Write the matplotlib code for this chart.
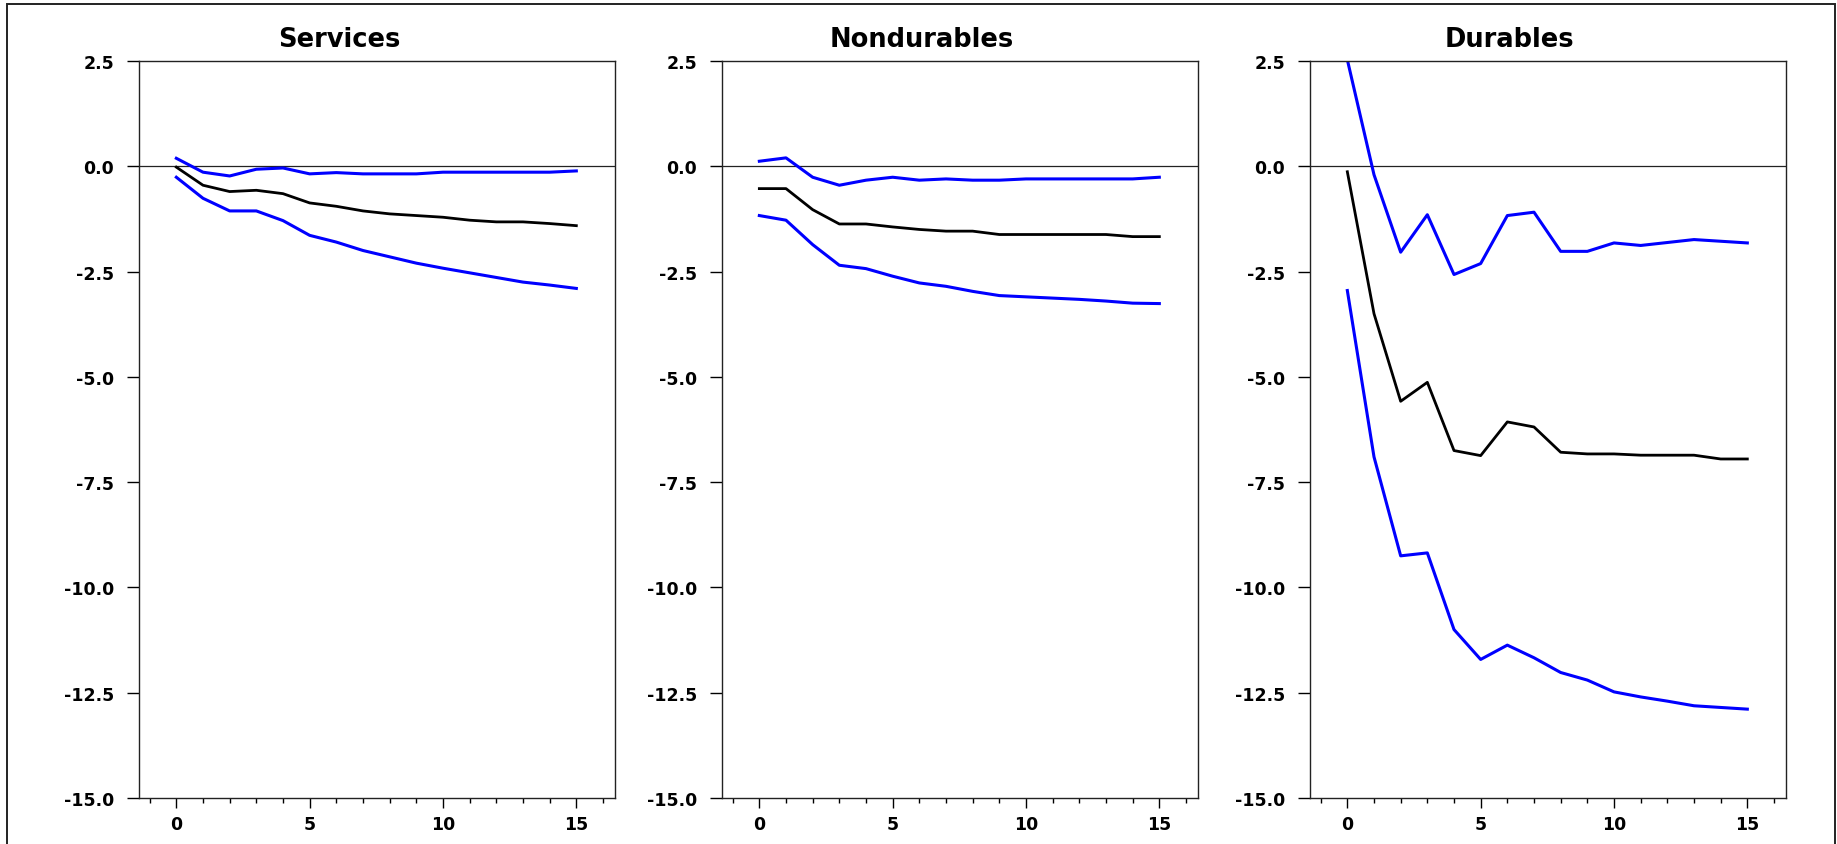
import matplotlib.pyplot as plt
import numpy as np
from matplotlib.patches import Rectangle
from matplotlib.ticker import MultipleLocator, FormatStrFormatter

plt.rcParams['font.family'] = ['DejaVu Sans']
plt.rcParams['axes.unicode_minus'] = False

horizon = np.arange(16)

titles = ['Services', 'Nondurables', 'Durables']

services_mid = [-0.02, -0.45, -0.60, -0.57, -0.65, -0.87, -0.95, -1.06,
                -1.13, -1.17, -1.21, -1.28, -1.32, -1.32, -1.36, -1.41]
services_hi = [0.19, -0.14, -0.23, -0.07, -0.04, -0.18, -0.15, -0.18,
               -0.18, -0.18, -0.14, -0.14, -0.14, -0.14, -0.14, -0.11]
services_lo = [-0.26, -0.76, -1.06, -1.06, -1.29, -1.64, -1.80, -2.00,
               -2.15, -2.30, -2.42, -2.53, -2.64, -2.75, -2.82, -2.90]

nondur_mid = [-0.53, -0.53, -1.03, -1.37, -1.37, -1.44, -1.50, -1.54,
              -1.54, -1.62, -1.62, -1.62, -1.62, -1.62, -1.67, -1.67]
nondur_hi = [0.12, 0.20, -0.26, -0.45, -0.33, -0.26, -0.33, -0.30,
             -0.33, -0.33, -0.30, -0.30, -0.30, -0.30, -0.30, -0.26]
nondur_lo = [-1.17, -1.28, -1.86, -2.35, -2.43, -2.61, -2.77, -2.85,
             -2.97, -3.07, -3.10, -3.13, -3.16, -3.20, -3.25, -3.26]

dur_mid = [-0.13, -3.50, -5.58, -5.13, -6.75, -6.87, -6.07, -6.19,
           -6.79, -6.83, -6.83, -6.86, -6.86, -6.86, -6.95, -6.95]
dur_hi = [2.53, -0.20, -2.04, -1.15, -2.57, -2.31, -1.17, -1.09,
          -2.02, -2.02, -1.82, -1.88, -1.81, -1.74, -1.78, -1.82]
dur_lo = [-2.95, -6.90, -9.25, -9.18, -11.00, -11.71, -11.37, -11.67,
          -12.02, -12.20, -12.48, -12.60, -12.70, -12.81, -12.85, -12.89]

panels = [
    (services_mid, services_hi, services_lo),
    (nondur_mid, nondur_hi, nondur_lo),
    (dur_mid, dur_hi, dur_lo),
]

W, H = 1837, 845
fig = plt.figure(figsize=(W / 100, H / 100), dpi=100)

lefts = [139, 722, 1310]
ax_w, ax_top, ax_bot = 476, 62, 799

for left, title, (mid, hi, lo) in zip(lefts, titles, panels):
    ax = fig.add_axes([left / W, 1 - ax_bot / H, ax_w / W, (ax_bot - ax_top) / H])
    ax.axhline(0, color='#222222', lw=0.9, zorder=1)
    ax.plot(horizon, hi, color='#0000ff', lw=2.2, zorder=2)
    ax.plot(horizon, lo, color='#0000ff', lw=2.2, zorder=2)
    ax.plot(horizon, mid, color='black', lw=2.0, zorder=3)

    ax.set_xlim(-1.4, 16.45)
    ax.set_ylim(-15, 2.5)
    ax.yaxis.set_major_locator(MultipleLocator(2.5))
    ax.yaxis.set_major_formatter(FormatStrFormatter('%.1f'))
    ax.xaxis.set_major_locator(MultipleLocator(5))
    ax.xaxis.set_minor_locator(MultipleLocator(1))

    for s in ax.spines.values():
        s.set_linewidth(1.0)
        s.set_color('#222222')
    ax.tick_params(axis='y', which='major', direction='out', length=9,
                   width=1.0, pad=9, labelsize=12.5)
    ax.tick_params(axis='x', which='major', direction='out', length=7,
                   width=1.0, pad=5, labelsize=12.5)
    ax.tick_params(axis='x', which='minor', direction='out', length=3.5, width=1.0)
    for lab in ax.get_xticklabels() + ax.get_yticklabels():
        lab.set_fontweight('bold')

    # panel title sits a little left of the plot centre
    ax.set_title(title, fontsize=18.5, fontweight='bold', pad=11, x=0.42)

# outer frame around the whole figure
fig.patches.append(Rectangle((7 / W, -0.05), (1835 - 7) / W, 1.05 - 5 / H,
                             transform=fig.transFigure, fill=False,
                             edgecolor='#222222', lw=1.4))

plt.savefig('out.png', dpi=100)
plt.close()
